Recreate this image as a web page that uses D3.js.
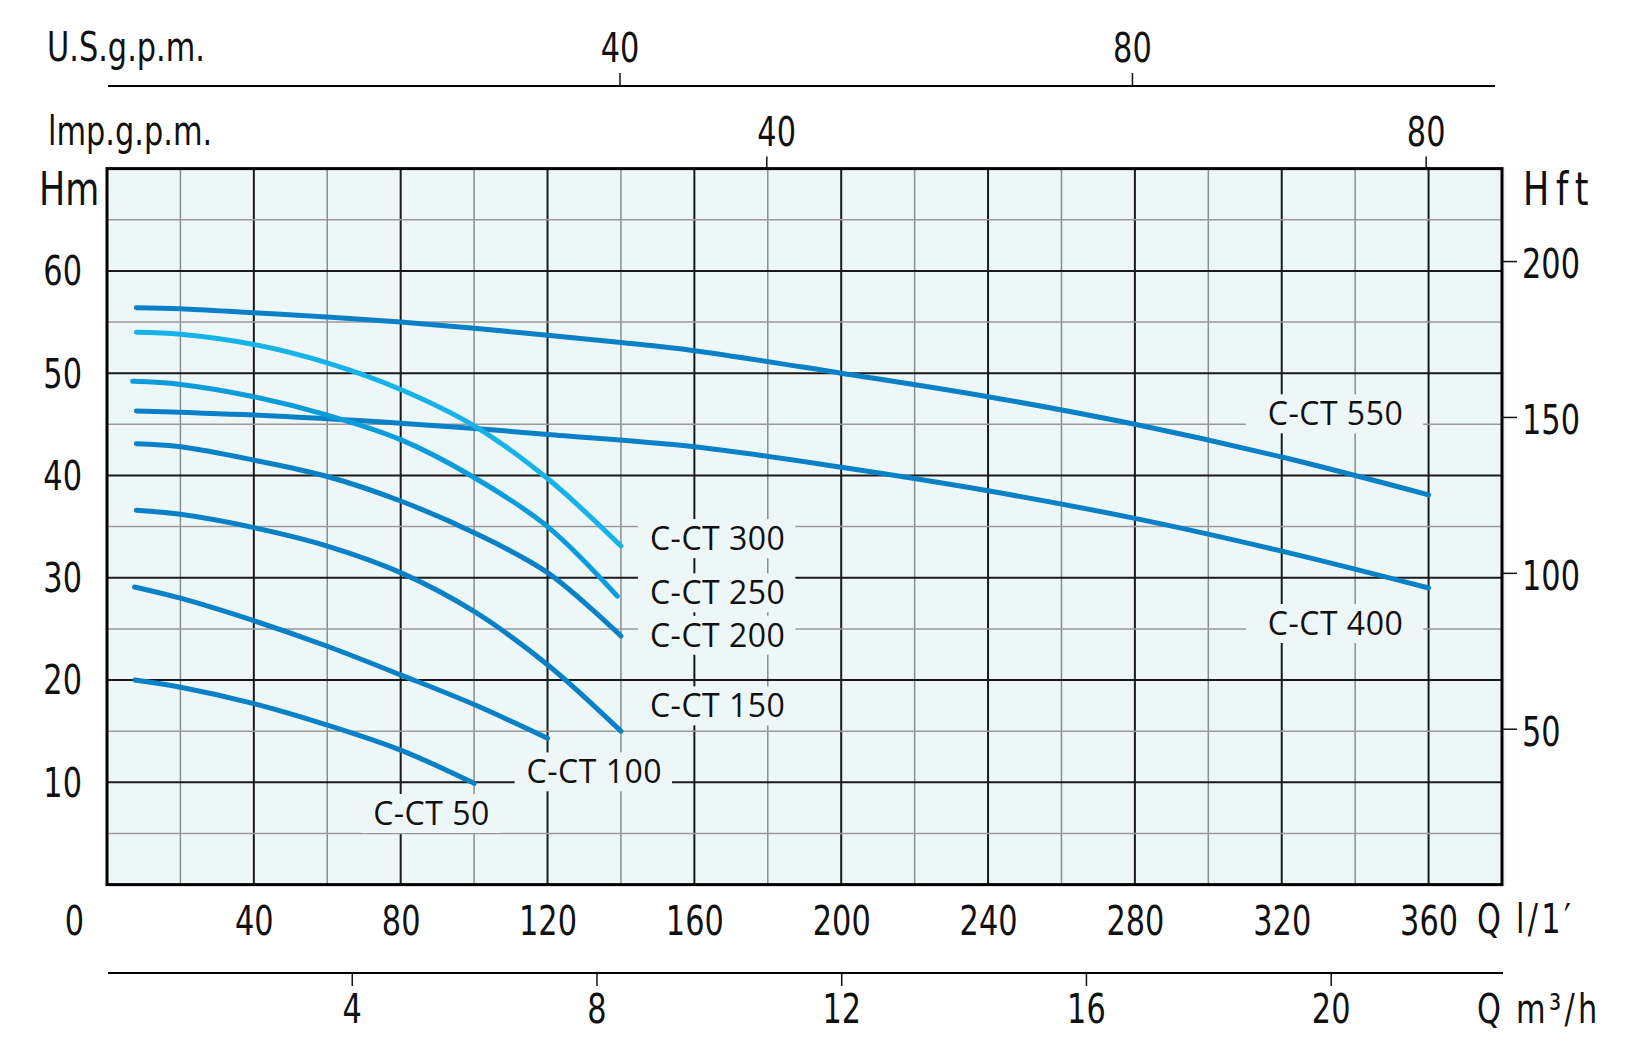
<!DOCTYPE html>
<html>
<head>
<meta charset="utf-8">
<script src="https://cdn.jsdelivr.net/npm/d3@7"></script>
<style>
  body { margin: 0; background: #fff; }
  .ax { font-family: "DejaVu Sans", sans-serif; font-size: 40px; fill: #111; }
  .lbl { font-family: "Open Sans", "Noto Sans", sans-serif; font-size: 32px; letter-spacing: 0.5px; fill: #111; }
</style>
</head>
<body>
<svg width="1626" height="1056"></svg>
<script>
// pump curves: flow Q in l/min, head H in m
const c550 = [[8,56.4],[20,56.3],[40,55.9],[60,55.5],[80,55.0],[100,54.4],[120,53.7],[140,53.0],[160,52.2],[200,50.0],[240,47.7],[280,45.0],[320,41.8],[360,38.1]];
const c400 = [[8,46.3],[40,45.9],[80,45.1],[100,44.6],[120,44.0],[160,42.8],[200,40.8],[240,38.5],[280,35.8],[320,32.6],[360,29.0]];
const c300 = [[8,54.0],[20,53.8],[40,52.8],[60,51.0],[80,48.4],[100,44.85],[120,39.7],[140,33.1]];
const c250 = [[7,49.2],[20,48.9],[40,47.7],[60,45.9],[80,43.5],[100,39.8],[120,35.0],[139,28.2]];
const c200 = [[8,43.1],[20,42.8],[40,41.5],[60,39.9],[80,37.5],[100,34.4],[120,30.5],[140,24.3]];
const c150 = [[8,36.6],[20,36.2],[40,34.9],[60,33.1],[80,30.5],[100,26.7],[120,21.5],[140,15.0]];
const c100 = [[7.5,29.1],[20,28.0],[40,25.8],[60,23.3],[80,20.5],[100,17.6],[120,14.3]];
const c50  = [[7.6,20.0],[20,19.3],[40,17.7],[60,15.6],[80,13.15],[100,9.9]];
const names = ['C-CT 550','C-CT 400','C-CT 300','C-CT 250','C-CT 200','C-CT 150','C-CT 100','C-CT 50'];

const qTicks = [40,80,120,160,200,240,280,320,360];
const hTicks = [10,20,30,40,50,60];
const ftTicks = [50,100,150,200];
const usTicks = [40,80];
const impTicks = [40,80];
const m3Ticks = [4,8,12,16,20];
// l/min per gallon as drawn on this sheet
const usFactor = 3.49, impFactor = 4.49;

const svg = d3.select('svg');
const L = 107, R = 1502, T = 168.6, B = 884.6;
const bg = '#eef7f8';
const S = 0.76; // horizontal squeeze for the narrow axis lettering

const x = d3.scaleLinear().domain([0,380]).range([L,R]);
const y = d3.scaleLinear().domain([0,70]).range([B,T]);
const yft = d3.scaleLinear().domain([0,70/0.3048]).range([B,T]);

// squeeze text horizontally round its own x anchor
const narrow = sel => sel.each(function(){
  const t = d3.select(this);
  const ax = +t.attr('x') || 0;
  t.attr('transform',`translate(${ax*(1-S)},0) scale(${S},1)`);
});
const axText = (sel,xx,yy,txt,size,ls) => {
  const t = sel.append('text').attr('class','ax').attr('x',xx).attr('y',yy).text(txt);
  if (size) t.style('font-size',size+'px');
  if (ls) t.style('letter-spacing',ls+'px');
  narrow(t);
  return t;
};

svg.append('rect').attr('x',L).attr('y',T).attr('width',R-L+4).attr('height',B-T+2).attr('fill',bg);

/* grid */
const g = svg.append('g');
g.selectAll('.vg').data(d3.range(20,380,20)).enter().append('line')
  .attr('x1',d=>x(d)).attr('x2',d=>x(d)).attr('y1',T).attr('y2',B)
  .attr('stroke',d=>d%40==0?'#1a1a1a':'#8c8c8c').attr('stroke-width',d=>d%40==0?2:1.5);
g.selectAll('.hg').data(d3.range(5,70,5)).enter().append('line')
  .attr('y1',d=>y(d)).attr('y2',d=>y(d)).attr('x1',L).attr('x2',R)
  .attr('stroke',d=>d%10==0?'#1a1a1a':'#9a9a9a').attr('stroke-width',d=>d%10==0?2:1.5);

/* labels with masking boxes */
const labelPos = {
  'C-CT 550':[316.2,44.9,22,20], 'C-CT 400':[316.2,24.4,22,20],
  'C-CT 300':[147.9,32.7,12,10], 'C-CT 250':[147.9,27.4,12,10],
  'C-CT 200':[147.9,23.25,12,10], 'C-CT 150':[147.9,16.35,12,10],
  'C-CT 100':[114.3,9.9,12,10], 'C-CT 50':[72.5,5.83,12,10]
};
names.forEach(n=>{
  const p = labelPos[n];
  const gl = svg.append('g');
  const t = gl.append('text').attr('class','lbl').attr('x',x(p[0])).attr('y',y(p[1])).text(n);
  const bb = t.node().getBBox();
  gl.insert('rect','text').attr('x',bb.x-p[2]).attr('y',bb.y+3).attr('width',bb.width+p[2]+p[3]).attr('height',bb.height-4).attr('fill',bg);
});

/* curves */
const line = d3.line().x(d=>x(d[0])).y(d=>y(d[1])).curve(d3.curveCatmullRom.alpha(0.5));
const curves = [c550,c400,c200,c150,c100,c50,c250,c300];
const colors = ['#0a80c6','#0a80c6','#0a80c6','#0a80c6','#0a80c6','#0a80c6','#0c9cdc','#17b2e8'];
svg.selectAll('.curve').data(curves).enter().append('path')
  .attr('d',line).attr('fill','none').attr('stroke',(d,i)=>colors[i])
  .attr('stroke-width',5).attr('stroke-linecap','round');

/* plot frame */
svg.append('rect').attr('x',L).attr('y',T).attr('width',R-L).attr('height',B-T)
  .attr('fill','none').attr('stroke','#000').attr('stroke-width',3);

const styleAxis = (ax) => {
  ax.select('.domain').remove();
  ax.selectAll('line').attr('stroke','#111').attr('stroke-width',1.5);
  ax.selectAll('text').attr('class','ax').attr('font-size',null).attr('font-family',null).attr('fill',null).call(narrow);
};

/* left axis Hm */
svg.append('g').selectAll('text').data(hTicks).enter().append('text')
  .attr('class','ax').attr('x',82).attr('y',d=>y(d)).attr('dy','0.36em').attr('text-anchor','end').text(d=>d)
  .call(narrow);
axText(svg,39,205,'Hm',46);

/* right axis Hft */
const rAxis = svg.append('g').attr('transform',`translate(${R},0)`)
  .call(d3.axisRight(yft).tickValues(ftTicks).tickSize(15).tickPadding(5));
styleAxis(rAxis);
rAxis.selectAll('text').attr('dy','0.42em');
axText(svg,1523,205,'Hft',46,9);

/* bottom axis l/min */
const bAxis = svg.append('g').attr('transform',`translate(0,${B})`)
  .call(d3.axisBottom(x).tickValues(qTicks).tickSize(0).tickPadding(22));
styleAxis(bAxis);
axText(svg,74.5,935,'0').attr('text-anchor','middle');
axText(svg,1477,933,'Q');
axText(svg,1516,933,'l/1′',null,4.4);

/* bottom axis m3/h */
const xm3 = d3.scaleLinear().domain([0,380*60/1000]).range([L,R]);
const mAxis = svg.append('g').attr('transform','translate(0,973)')
  .call(d3.axisBottom(xm3).tickValues(m3Ticks).tickSize(13).tickPadding(9));
styleAxis(mAxis);
svg.append('line').attr('x1',108).attr('x2',1503).attr('y1',973).attr('y2',973).attr('stroke','#000').attr('stroke-width',2);
axText(svg,1477,1023,'Q');
axText(svg,1516,1023,'m³/h',null,4.4);

/* top axis US gpm */
const xus = d3.scaleLinear().domain([0,380/usFactor]).range([L,R]);
const uAxis = svg.append('g').attr('transform','translate(0,86)')
  .call(d3.axisTop(xus).tickValues(usTicks).tickSize(13).tickPadding(11));
styleAxis(uAxis);
svg.append('line').attr('x1',108).attr('x2',1495).attr('y1',86).attr('y2',86).attr('stroke','#000').attr('stroke-width',2);
axText(svg,47,61,'U.S.g.p.m.');

/* top axis Imp gpm */
const ximp = d3.scaleLinear().domain([0,380/impFactor]).range([L,R]);
const iAxis = svg.append('g').attr('transform',`translate(0,${T})`)
  .call(d3.axisTop(ximp).tickValues(impTicks).tickSize(12).tickPadding(11));
styleAxis(iAxis);
iAxis.selectAll('.tick').filter(d=>d===40).select('text').attr('dx',13);
axText(svg,48,145,'lmp.g.p.m.');
</script>
</body>
</html>
